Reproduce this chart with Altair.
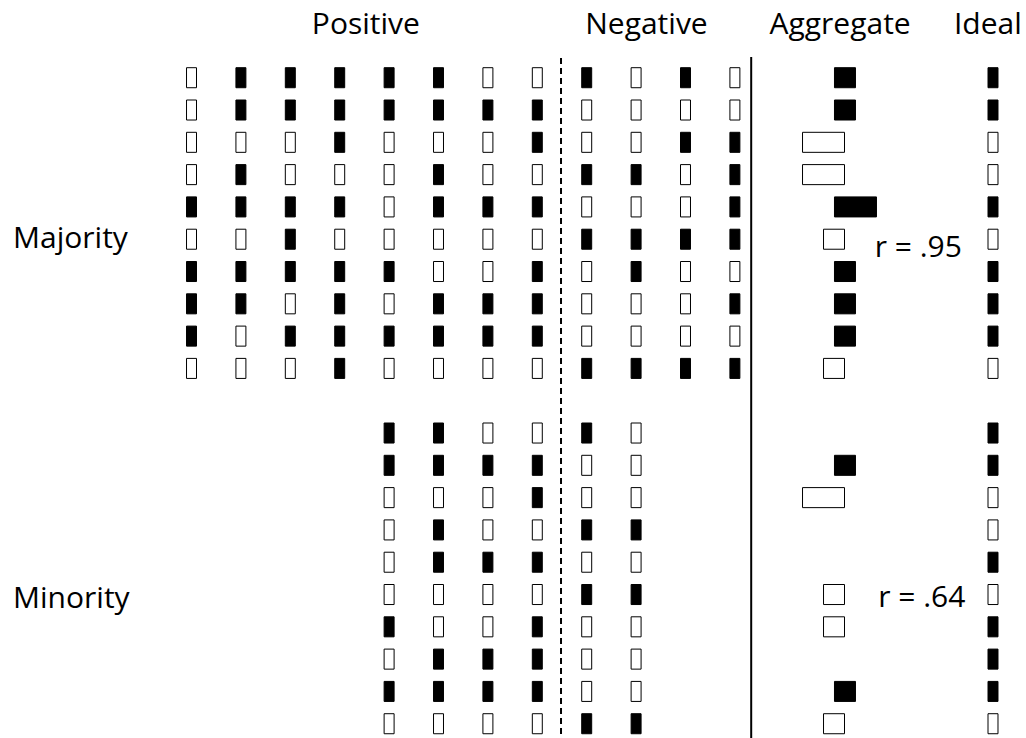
import altair as alt
import pandas as pd

# ---------------- data ----------------
maj_pos = [
    [0, 1, 1, 1, 1, 1, 0, 0],
    [0, 1, 1, 1, 1, 1, 1, 1],
    [0, 0, 0, 1, 0, 0, 0, 1],
    [0, 1, 0, 0, 0, 1, 0, 0],
    [1, 1, 1, 1, 0, 1, 1, 1],
    [0, 0, 1, 0, 0, 0, 0, 0],
    [1, 1, 1, 1, 1, 0, 0, 1],
    [1, 1, 0, 1, 0, 1, 1, 1],
    [1, 0, 1, 1, 1, 1, 1, 1],
    [0, 0, 0, 1, 0, 0, 0, 0],
]
maj_neg = [
    [1, 0, 1, 0],
    [0, 0, 0, 0],
    [0, 0, 1, 1],
    [1, 1, 0, 1],
    [0, 0, 0, 1],
    [1, 1, 1, 1],
    [0, 1, 0, 0],
    [0, 0, 0, 1],
    [0, 0, 0, 0],
    [1, 1, 1, 1],
]
maj_agg = [1, 1, -2, -2, 2, -1, 1, 1, 1, -1]
maj_ideal = [1, 1, 0, 0, 1, 0, 1, 1, 1, 0]

min_pos = [  # columns 5-8
    [1, 1, 0, 0],
    [1, 1, 1, 1],
    [0, 0, 0, 1],
    [0, 1, 0, 0],
    [0, 1, 1, 1],
    [0, 0, 0, 0],
    [1, 0, 0, 1],
    [0, 1, 1, 1],
    [1, 1, 1, 1],
    [0, 0, 0, 0],
]
min_neg = [
    [1, 0], [0, 0], [0, 0], [1, 1], [0, 0],
    [1, 1], [0, 0], [0, 0], [0, 0], [1, 1],
]
min_agg = [0, 1, -2, 0, 0, -1, -1, 0, 1, -1]
min_ideal = [1, 1, 0, 0, 1, 0, 1, 1, 1, 0]

headers = ["Positive", "Negative", "Aggregate", "Ideal"]
groups = ["Majority", "Minority"]
r_labels = ["r = .95", "r = .64"]

# ---------------- layout (column / row units) ----------------
IDEAL_COL = 17.225
AGG_POS_START = 14.016
AGG_NEG_END = 14.219
AGG_UNIT = 0.425
HALF_W = 0.101
HALF_H = 0.31
MIN_ROW0 = 12  # minority block starts at row 12

cells = []
def add_block(pos, neg, ideal, row0, pos_col0):
    for i, row in enumerate(pos):
        for j, v in enumerate(row):
            cells.append({"col": pos_col0 + j, "row": row0 + i, "v": v})
    for i, row in enumerate(neg):
        for j, v in enumerate(row):
            cells.append({"col": 9 + j, "row": row0 + i, "v": v})
    for i, v in enumerate(ideal):
        cells.append({"col": IDEAL_COL, "row": row0 + i, "v": v})

add_block(maj_pos, maj_neg, maj_ideal, 1, 1)
add_block(min_pos, min_neg, min_ideal, MIN_ROW0, 5)
cells_df = pd.DataFrame(cells)

agg = []
for i, a in enumerate(maj_agg):
    agg.append({"row": 1 + i, "a": a})
for i, a in enumerate(min_agg):
    agg.append({"row": MIN_ROW0 + i, "a": a})
agg_df = pd.DataFrame([d for d in agg if d["a"] != 0])

XDOM = [-2.877, 17.893]
YDOM = [-1.406, 21.442]
xs = alt.Scale(domain=XDOM, nice=False, zero=False)
ys = alt.Scale(domain=YDOM, nice=False, zero=False, reverse=True)

fill_scale = alt.Scale(domain=[0, 1], range=["white", "black"])

base_cells = alt.Chart(cells_df).transform_calculate(
    x1=f"datum.col - {HALF_W}", x2=f"datum.col + {HALF_W}",
    y1=f"datum.row - {HALF_H}", y2=f"datum.row + {HALF_H}",
)
rects = base_cells.mark_rect(stroke="black", strokeWidth=1).encode(
    x=alt.X("x1:Q", scale=xs, axis=None),
    x2="x2:Q",
    y=alt.Y("y1:Q", scale=ys, axis=None),
    y2="y2:Q",
    fill=alt.Fill("v:O", scale=fill_scale, legend=None),
)

agg_bars = alt.Chart(agg_df).transform_calculate(
    x1=f"datum.a > 0 ? {AGG_POS_START} : {AGG_NEG_END} + datum.a * {AGG_UNIT}",
    x2=f"datum.a > 0 ? {AGG_POS_START} + datum.a * {AGG_UNIT} : {AGG_NEG_END}",
    y1=f"datum.row - {HALF_H}", y2=f"datum.row + {HALF_H}",
    v="datum.a > 0 ? 1 : 0",
).mark_rect(stroke="black", strokeWidth=1).encode(
    x=alt.X("x1:Q", scale=xs, axis=None),
    x2="x2:Q",
    y=alt.Y("y1:Q", scale=ys, axis=None),
    y2="y2:Q",
    fill=alt.Fill("v:O", scale=fill_scale, legend=None),
)

lines_df = pd.DataFrame([
    {"x": 8.48, "y1": 0.39, "y2": YDOM[1], "kind": "dash"},
    {"x": 12.33, "y1": 0.36, "y2": YDOM[1], "kind": "solid"},
])
dash_line = alt.Chart(lines_df).transform_filter("datum.kind == 'dash'").mark_rule(
    color="black", strokeWidth=2, strokeDash=[6, 4]
).encode(x=alt.X("x:Q", scale=xs, axis=None), y=alt.Y("y1:Q", scale=ys, axis=None), y2="y2:Q")
solid_line = alt.Chart(lines_df).transform_filter("datum.kind == 'solid'").mark_rule(
    color="black", strokeWidth=2
).encode(x=alt.X("x:Q", scale=xs, axis=None), y=alt.Y("y1:Q", scale=ys, axis=None), y2="y2:Q")

FONT = "Open Sans"
FS = 30
head_df = pd.DataFrame({"t": headers, "x": [4.53, 10.21, 14.13, 17.12], "y": [-0.353] * 4})
head_text = alt.Chart(head_df).mark_text(
    font=FONT, fontSize=FS, align="center", baseline="alphabetic", color="black"
).encode(x=alt.X("x:Q", scale=xs, axis=None), y=alt.Y("y:Q", scale=ys, axis=None), text="t:N")

left_df = pd.DataFrame({"t": groups + r_labels,
                        "x": [-2.613, -2.613, 14.83, 14.90],
                        "y": [6.27, 17.42, 6.55, 17.39]})
left_text = alt.Chart(left_df).mark_text(
    font=FONT, fontSize=FS, align="left", baseline="alphabetic", color="black"
).encode(x=alt.X("x:Q", scale=xs, axis=None), y=alt.Y("y:Q", scale=ys, axis=None), text="t:N")

chart = alt.layer(rects, agg_bars, dash_line, solid_line, head_text, left_text).properties(
    width=1026, height=738, padding=0, autosize=alt.AutoSizeParams(type="none"),
    background="white",
).configure_view(stroke=None)

chart.save("out.html", embed_options={"renderer": "svg", "actions": False})
